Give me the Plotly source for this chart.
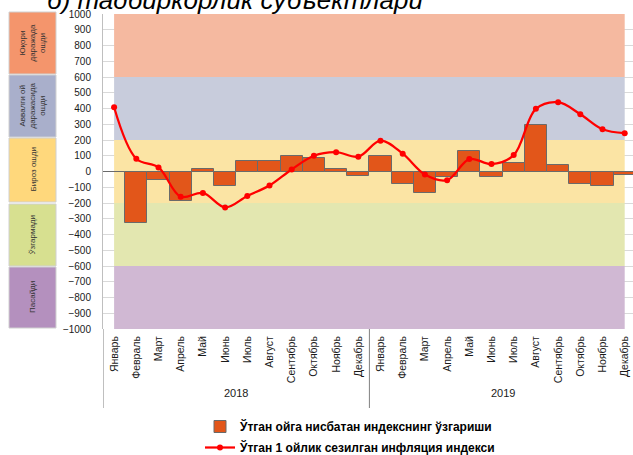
import plotly.graph_objects as go

# ---- data ----
months = ["Январь", "Февраль", "Март", "Апрель", "Май", "Июнь", "Июль", "Август",
          "Сентябрь", "Октябрь", "Ноябрь", "Декабрь"]
years = ["2018", "2019"]
categories = months * 2

bar_name = "Ўтган ойга нисбатан индекснинг ўзгариши"
line_name = "Ўтган 1 ойлик сезилган инфляция индекси"

bar_values = [0, -325, -55, -185, 17, -93, 68, 68, 96, 85, 17, -30,
              96, -80, -134, -35, 130, -35, 57, 296, 40, -78, -90, -20]
line_values = [408, 81, 26, -160, -136, -228, -155, -89, 13, 100, 123, 94,
               196, 113, -19, -55, 79, 47, 104, 398, 440, 364, 268, 243]

band_labels = ["Юқори<br>даражада<br>ошди", "Аввалги ой<br>даражасида<br>ошди",
               "Бироз ошди", "Ўзгармади", "Пасайди"]
band_low = [600, 200, -200, -600, -1000]
band_high = [1000, 600, 200, -200, -600]
band_colors = ["#F5B9A0", "#C8CCDC", "#FBE4A4", "#E3E7B0", "#D0B8D3"]
box_colors = ["#F4956C", "#A9AFCB", "#FFD87C", "#D7E090", "#B490BE"]

title_text = "б) тадбиркорлик субъектлари"

# ---- geometry helpers (layout only) ----
W, H = 633, 455
L, T, B = 103, 14, 329
R = W


def px_x(p):
    return (p - L) / (R - L)


def px_y(p):
    return (B - p) / (B - T)


x_idx = list(range(len(categories)))

fig = go.Figure()
fig.add_trace(go.Bar(
    x=x_idx, y=bar_values, name=bar_name, legendgroup="bars",
    marker=dict(color="#E2561A", line=dict(color="#6A6A6A", width=1)),
    width=1.0,
))
fig.add_trace(go.Scatter(
    x=x_idx, y=line_values, name=line_name, mode="lines+markers", legendgroup="line",
    line=dict(color="#FF0000", width=2.25, shape="spline", smoothing=1.0),
    marker=dict(color="#FF0000", size=6),
))

shapes = []
# background bands
for lo, hi, c in zip(band_low, band_high, band_colors):
    shapes.append(dict(type="rect", xref="x", yref="y", x0=x_idx[0], x1=x_idx[-1],
                       y0=lo, y1=hi, fillcolor=c, line=dict(width=0), layer="between"))
# zero line
shapes.append(dict(type="line", xref="paper", yref="y", x0=0, x1=1, y0=0, y1=0,
                   line=dict(color="#7F7F7F", width=1), layer="between"))
# year dividers
for xv in [-0.5, 11.5]:
    shapes.append(dict(type="line", xref="x", yref="paper", x0=xv, x1=xv,
                       y0=0, y1=px_y(408), line=dict(color="#808080", width=1)))

# left colour key boxes
box_px = [(12, 74), (75, 137), (138, 202), (204, 266), (267, 328)]
annotations = []
for (t0, t1), c, lab in zip(box_px, box_colors, band_labels):
    shapes.append(dict(type="rect", xref="paper", yref="paper", x0=px_x(9), x1=px_x(56),
                       y0=px_y(t1), y1=px_y(t0), fillcolor=c,
                       line=dict(color="#D0D0D0", width=1)))
    annotations.append(dict(xref="paper", yref="paper", x=px_x(32.5), y=px_y((t0 + t1) / 2),
                            xanchor="center", yanchor="middle",
                            text=lab, showarrow=False, textangle=-90,
                            font=dict(family="Liberation Sans", size=8, color="#333333")))

# year labels
for i, yr in enumerate(years):
    annotations.append(dict(xref="x", yref="paper", x=i * 12 + 5.5, y=px_y(401),
                            text=yr, showarrow=False,
                            font=dict(family="Liberation Sans", size=11, color="#1a1a1a")))

# title (partly cut at top)
annotations.append(dict(xref="paper", yref="paper", x=px_x(45), y=px_y(17),
                        xanchor="left", yanchor="bottom", text="<i>" + title_text + "</i>",
                        showarrow=False,
                        font=dict(family="Liberation Sans", size=26, color="#000000")))

fig.update_layout(
    width=W, height=H,
    margin=dict(l=L, r=0, t=T, b=H - B, pad=0, autoexpand=False),
    paper_bgcolor="white", plot_bgcolor="white",
    bargap=0,
    shapes=shapes, annotations=annotations,
    showlegend=True,
    legend=dict(orientation="v", x=px_x(200), y=px_y(412), xanchor="left", yanchor="top",
                itemwidth=30, tracegroupgap=2, bgcolor="rgba(0,0,0,0)",
                font=dict(family="Liberation Sans", size=12, color="#000000", weight="bold")),
    xaxis=dict(range=[-0.5, -0.5 + (R - L) / 22.2], tickmode="array", tickvals=x_idx,
               ticktext=categories, tickangle=-90, showgrid=False, zeroline=False,
               showline=False, ticks="", ticklabelstandoff=4, automargin=False,
               tickfont=dict(family="Liberation Sans", size=10.5, color="#1a1a1a")),
    yaxis=dict(range=[-1000, 1000], dtick=100, tick0=0, showgrid=True, gridcolor="#D9D9D9",
               gridwidth=1, zeroline=False, showline=True, linecolor="#BFBFBF", linewidth=1,
               ticks="", ticklabelstandoff=9, automargin=False,
               tickfont=dict(family="Liberation Sans", size=10, color="#1a1a1a")),
)

fig.write_html("out.html", config={"displayModeBar": False},
               post_script="document.body.style.margin='0px';document.body.style.overflow='hidden';")
